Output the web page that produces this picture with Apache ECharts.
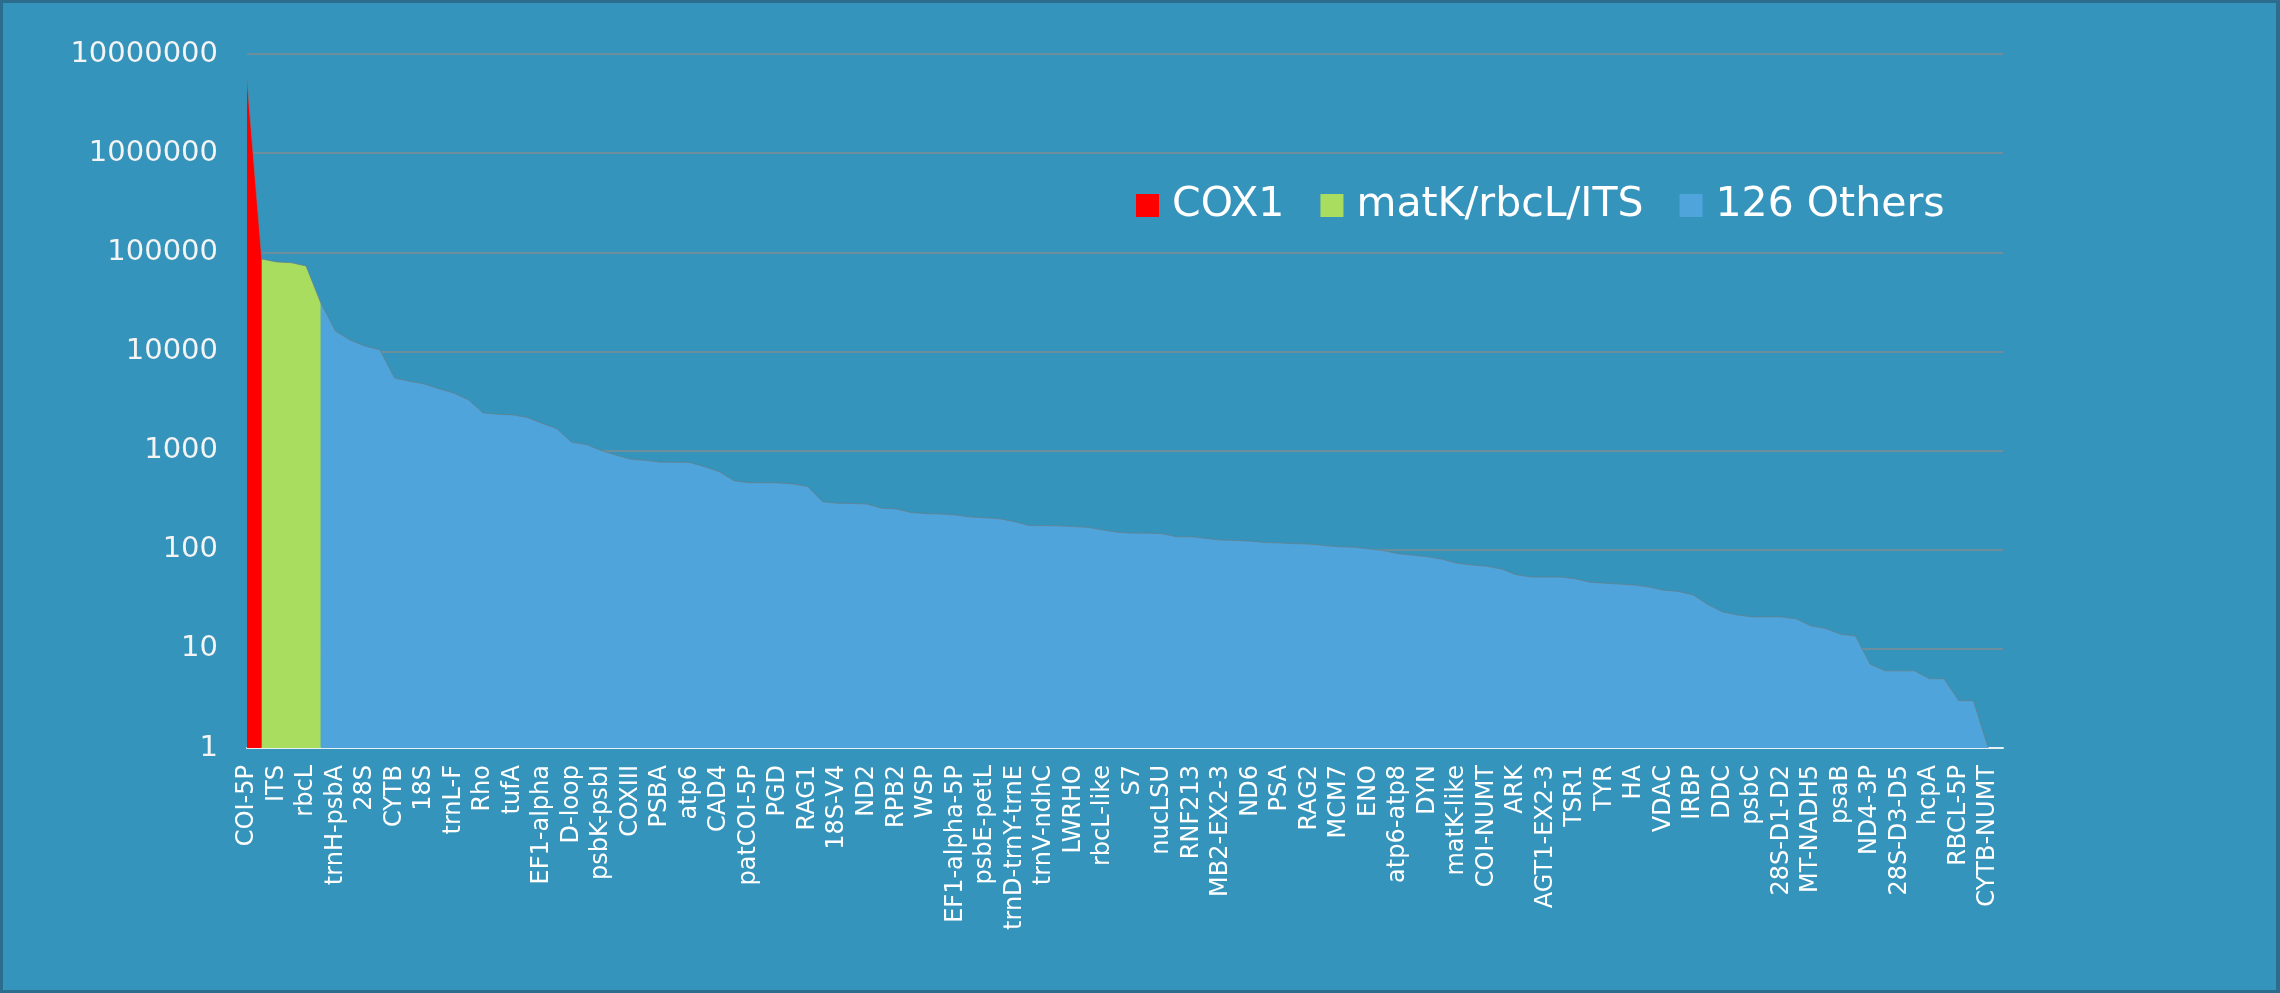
<!DOCTYPE html>
<html>
<head>
<meta charset="utf-8">
<script src="https://cdn.jsdelivr.net/npm/echarts@6/dist/echarts.min.js"></script>
<style>
  html, body { margin: 0; padding: 0; width: 2280px; height: 993px; background: #2c6d8d; overflow: hidden; }
  #chart { position: absolute; left: 3px; top: 3px; width: 2273px; height: 987px; background: #3594bb; }
</style>
</head>
<body>
<div id="chart"></div>
<script>
// Tick labels shown on the category axis (every second category is labelled)
const shownLabels = [
  'COI-5P','ITS','rbcL','trnH-psbA','28S','CYTB','18S','trnL-F','Rho','tufA',
  'EF1-alpha','D-loop','psbK-psbI','COXIII','PSBA','atp6','CAD4','patCOI-5P','PGD','RAG1',
  '18S-V4','ND2','RPB2','WSP','EF1-alpha-5P','psbE-petL','trnD-trnY-trnE','trnV-ndhC','LWRHO','rbcL-like',
  'S7','nucLSU','RNF213','MB2-EX2-3','ND6','PSA','RAG2','MCM7','ENO','atp6-atp8',
  'DYN','matK-like','COI-NUMT','ARK','AGT1-EX2-3','TSR1','TYR','HA','VDAC','IRBP',
  'DDC','psbC','28S-D1-D2','MT-NADH5','psaB','ND4-3P','28S-D3-D5','hcpA','RBCL-5P','CYTB-NUMT'
];
// Unlabelled categories in between (names not visible in the reference)
const hiddenLabels = { 1: 'matK' };
const categoryCount = 120;

// Series values (record counts), each series starts at the given category index
const cox1Start = 0;
const cox1Values = [5500000, 85500];
const groupStart = 1;
const groupValues = [85500, 80000, 78500, 72800, 30800];
const othersStart = 5;
const othersValues = [
  30800, 16000, 13000, 11300, 10400, 5400, 5000, 4700, 4200, 3800,
  3250, 2400, 2320, 2290, 2160, 1880, 1660, 1210, 1150, 1000,
  900, 816, 798, 762, 762, 760, 688, 612, 497, 474,
  474, 472, 460, 433, 305, 294, 292, 289, 262, 258,
  237, 231, 229, 224, 214, 210, 205, 192, 175, 175,
  174, 171, 168, 158, 150, 147, 147, 145, 135, 135,
  130, 125, 124, 122, 118, 117, 115, 114, 110, 107,
  106, 102, 98, 91, 88, 85, 80, 73, 70, 68,
  64, 56, 53, 53, 53, 51, 47, 46, 45, 44,
  42, 39, 38, 35, 28, 23.5, 22, 21, 21, 21,
  20, 17, 16, 14, 13.5, 7, 6, 6, 6, 5,
  5, 3, 3, 1
];
const seriesNames = ['COX1', 'matK/rbcL/ITS', '126 Others'];
const seriesColors = ['#ff0000', '#a9dd60', '#4fa5db'];
const yTicks = [1, 10, 100, 1000, 10000, 100000, 1000000, 10000000];

// Build category list
const categories = [];
for (let i = 0; i < categoryCount; i++) {
  if (i % 2 === 0 && shownLabels[i / 2] !== undefined) categories.push(shownLabels[i / 2]);
  else categories.push(hiddenLabels[i] || '');
}
function pad(start, vals) {
  const arr = new Array(categoryCount).fill(null);
  vals.forEach((v, k) => { arr[start + k] = v; });
  return arr;
}
const seriesData = [pad(cox1Start, cox1Values), pad(groupStart, groupValues), pad(othersStart, othersValues)];

const FONT = 'DejaVu Sans';
const chart = echarts.init(document.getElementById('chart'), null, { renderer: 'canvas' });
chart.setOption({
  animation: false,
  backgroundColor: '#3594bb',
  textStyle: { fontFamily: FONT },
  legend: {
    data: seriesNames,
    left: 1133,
    top: 182,
    padding: 0,
    icon: 'rect',
    itemWidth: 23,
    itemHeight: 23,
    itemGap: 36,
    selectedMode: false,
    textStyle: { fontFamily: FONT, fontSize: 41, color: '#ffffff', padding: [0, 0, 0, 8] }
  },
  grid: { left: 244, right: 273, top: 51, bottom: 242, containLabel: false },
  xAxis: {
    type: 'category',
    data: categories,
    boundaryGap: false,
    axisLine: { show: true, lineStyle: { color: '#e8f0f4', width: 2 } },
    axisTick: { show: false },
    axisLabel: { interval: 1, rotate: 90, margin: 17, fontSize: 24, fontFamily: FONT, color: '#ffffff' },
    splitLine: { show: false }
  },
  yAxis: {
    type: 'log',
    logBase: 10,
    min: yTicks[0],
    max: yTicks[yTicks.length - 1],
    splitNumber: yTicks.length - 1,
    axisLine: { show: false },
    axisTick: { show: false },
    axisLabel: { margin: 29, fontSize: 29, fontFamily: FONT, color: '#f4f4f4', formatter: v => String(Math.round(v)) },
    splitLine: { show: true, lineStyle: { color: '#7f8c93', width: 1.5 } }
  },
  series: seriesNames.map((name, k) => ({
    name,
    type: 'line',
    data: seriesData[k],
    symbol: 'none',
    connectNulls: false,
    itemStyle: { color: seriesColors[k] },
    lineStyle: { width: 1, color: 'rgba(105,125,135,0.7)' },
    areaStyle: { color: seriesColors[k], opacity: 1, origin: 'start' },
    z: 2 + k
  }))
});
</script>
</body>
</html>
